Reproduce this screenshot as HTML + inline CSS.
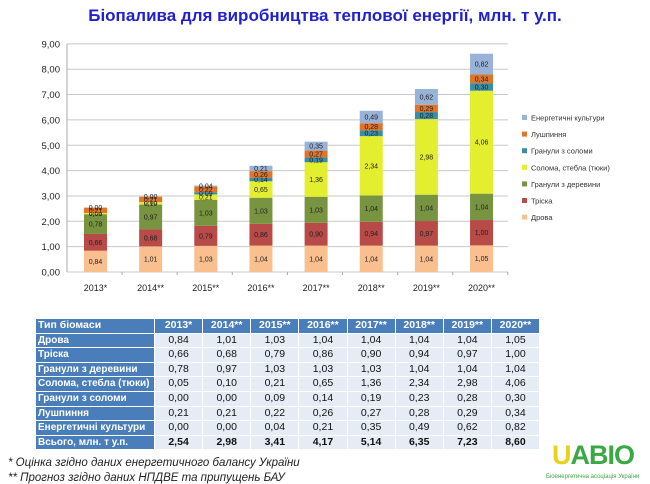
<!DOCTYPE html>
<html><head><meta charset="utf-8"><style>
body{margin:0;width:650px;height:484px;background:#fff;overflow:hidden;position:relative;font-family:"Liberation Sans","DejaVu Sans",sans-serif}
#title{position:absolute;left:0;top:6px;width:650px;text-align:center;color:#2020d0;font-weight:bold;font-size:17px}
table{position:absolute;left:35px;top:318px;border-collapse:separate;border-spacing:1px 1px;font-size:10.5px;table-layout:fixed;width:505px}
td{height:13.6px;padding:0 2px;line-height:13.6px;white-space:nowrap;overflow:hidden}
td.h{background:#4a7ebb;color:#fff;font-weight:bold}
td.l{background:#4a7ebb;color:#fff;font-weight:bold;font-size:10px}
td.d{background:#e6ecf5;color:#111;text-align:center}
tr.tot td.d{font-weight:bold}
td.hy{background:#4a7ebb;color:#fff;font-weight:bold;text-align:center}
.fn{position:absolute;left:8px;font-style:italic;font-size:11.5px;color:#222}
</style></head><body>
<div id="title">Біопалива для виробництва теплової енергії, млн. т у.п.</div>
<svg id="ch" width="650" height="310" style="position:absolute;left:0;top:0" font-family="Liberation Sans, DejaVu Sans, sans-serif"></svg>
<table id="tb"><colgroup><col style="width:118px"><col><col><col><col><col><col><col><col></colgroup></table>
<div class="fn" style="top:457px">* Оцінка згідно даних енергетичного балансу України</div>
<div class="fn" style="top:472px">** Прогноз згідно даних НПДВЕ та припущень БАУ</div>
<div style="position:absolute;left:552px;top:440px;font-size:27px;font-weight:bold;letter-spacing:-1px"><span style="color:#e8d21a">U</span><span style="color:#3aa845">ABIO</span></div>
<div style="position:absolute;left:546px;top:474px;font-size:6px;color:#3aa845">Біоенергетична асоціація України</div>
<script>
var yrs=["2013*","2014**","2015**","2016**","2017**","2018**","2019**","2020**"];
var names=["Дрова","Тріска","Гранули з деревини","Солома, стебла (тюки)","Гранули з соломи","Лушпиння","Енергетичні культури"];
var cols=["#f9bf8f","#b84a47","#789440","#e3ee2e","#3a8ea3","#e0742a","#98b2d8"];
var D=[[0.84,1.01,1.03,1.04,1.04,1.04,1.04,1.05],[0.66,0.68,0.79,0.86,0.90,0.94,0.97,1.00],[0.78,0.97,1.03,1.03,1.03,1.04,1.04,1.04],[0.05,0.10,0.21,0.65,1.36,2.34,2.98,4.06],[0.00,0.00,0.09,0.14,0.19,0.23,0.28,0.30],[0.21,0.21,0.22,0.26,0.27,0.28,0.29,0.34],[0.00,0.00,0.04,0.21,0.35,0.49,0.62,0.82]];
var tot=["2,54","2,98","3,41","4,17","5,14","6,35","7,23","8,60"];
var f=v=>v.toFixed(2).replace(".",",");
var s="",y0=272,k=25.35,x0=67,x1=508;
for(var i=0;i<=9;i++){var y=y0-i*k;s+=`<line x1="${x0}" x2="${x1}" y1="${y}" y2="${y}" stroke="#c8c8c8"/><text x="60" y="${y+3.5}" font-size="9.5" text-anchor="end" fill="#222">${f(i)}</text>`;}
s+=`<line x1="${x0}" x2="${x0}" y1="${y0-9*k}" y2="${y0}" stroke="#aaa"/>`;
for(var j=0;j<8;j++){var cx=95.5+j*55.15,yy=y0;
 for(var i=0;i<7;i++){var h=D[i][j]*k;yy-=h;if(h>0)s+=`<rect x="${cx-11.5}" y="${yy}" width="23" height="${h}" fill="${cols[i]}"/>`;
  s+=`<text x="${cx}" y="${yy+h/2+2.5}" font-size="7" text-anchor="middle" fill="#222">${f(D[i][j])}</text>`;}
 s+=`<text x="${cx}" y="291" font-size="9" text-anchor="middle" fill="#222">${yrs[j]}</text>`;
 s+=`<line x1="${x0+(j+1)*55.1}" x2="${x0+(j+1)*55.1}" y1="${y0}" y2="${y0+3}" stroke="#aaa"/>`;}
for(var i=6;i>=0;i--){var ly=119+(6-i)*16.6;s+=`<rect x="522" y="${ly-4}" width="5" height="5" fill="${cols[i]}"/><text x="531" y="${ly+1.5}" font-size="7.5" fill="#333">${names[i]}</text>`;}
document.getElementById("ch").innerHTML=s;
var t='<tr><td class="h">Тип біомаси</td>'+yrs.map(y=>`<td class="hy">${y}</td>`).join("")+"</tr>";
for(var i=0;i<7;i++)t+=`<tr><td class="l">${names[i]}</td>`+D[i].map(v=>`<td class="d">${f(v)}</td>`).join("")+"</tr>";
t+='<tr class="tot"><td class="l">Всього, млн. т у.п.</td>'+tot.map(v=>`<td class="d">${v}</td>`).join("")+"</tr>";
document.getElementById("tb").insertAdjacentHTML("beforeend",t);
</script>
</body></html>
